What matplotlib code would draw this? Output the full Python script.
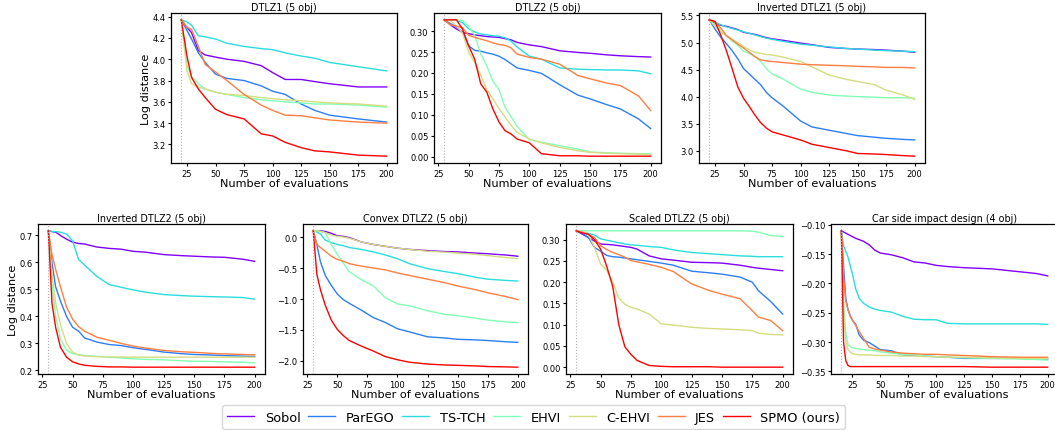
import numpy as np
import matplotlib
matplotlib.use("Agg")
import matplotlib.pyplot as plt

methods = ["Sobol", "ParEGO", "TS-TCH", "EHVI", "C-EHVI", "JES", "SPMO (ours)"]

# ---------------- DTLZ1 (5 obj) ----------------
dtlz1_x = [20, 25, 29, 35, 41, 50, 60, 75, 90, 100, 111, 125, 137, 150, 175, 200]
dtlz1 = {
    "Sobol":       [4.37, 4.30, 4.25, 4.08, 4.04, 4.02, 4.00, 3.98, 3.94, 3.875, 3.81, 3.81, 3.79, 3.77, 3.74, 3.74],
    "ParEGO":      [4.37, 4.27, 4.19, 4.06, 3.97, 3.86, 3.82, 3.80, 3.75, 3.70, 3.67, 3.58, 3.52, 3.475, 3.44, 3.41],
    "TS-TCH":      [4.37, 4.35, 4.32, 4.22, 4.21, 4.19, 4.15, 4.12, 4.10, 4.09, 4.06, 4.03, 4.01, 3.97, 3.93, 3.89],
    "EHVI":        [4.37, 3.94, 3.84, 3.77, 3.72, 3.69, 3.67, 3.64, 3.62, 3.61, 3.60, 3.59, 3.58, 3.58, 3.57, 3.55],
    "C-EHVI":      [4.37, 3.89, 3.77, 3.74, 3.72, 3.69, 3.67, 3.66, 3.64, 3.63, 3.62, 3.61, 3.60, 3.59, 3.58, 3.56],
    "JES":         [4.37, 4.30, 4.28, 4.12, 3.95, 3.88, 3.80, 3.67, 3.57, 3.52, 3.475, 3.47, 3.45, 3.43, 3.41, 3.40],
    "SPMO (ours)": [4.37, 4.03, 3.83, 3.72, 3.64, 3.53, 3.48, 3.44, 3.30, 3.28, 3.22, 3.17, 3.14, 3.13, 3.10, 3.09],
}

# ---------------- DTLZ2 (5 obj) ----------------
dtlz2_x = [30, 35, 40, 45, 50, 55, 60, 65, 70, 75, 80, 85, 90, 100, 110, 125, 140, 150, 165, 175, 190, 200]
dtlz2 = {
    "Sobol":       [.327, .315, .305, .297, .294, .291, .289, .287, .286, .285, .282, .279, .273, .267, .263, .253, .249, .247, .243, .241, .239, .238],
    "ParEGO":      [.327, .318, .310, .298, .265, .254, .252, .248, .245, .240, .232, .222, .212, .206, .199, .172, .147, .138, .123, .114, .090, .067],
    "TS-TCH":      [.327, .327, .326, .320, .306, .298, .293, .291, .289, .288, .284, .276, .262, .240, .233, .212, .209, .208, .207, .207, .205, .198],
    "EHVI":        [.327, .327, .327, .325, .312, .290, .245, .217, .180, .160, .118, .095, .072, .041, .034, .026, .018, .011, .009, .008, .007, .007],
    "C-EHVI":      [.327, .325, .312, .295, .250, .225, .195, .160, .138, .115, .095, .075, .058, .042, .033, .022, .014, .010, .008, .007, .006, .005],
    "JES":         [.327, .315, .312, .308, .290, .285, .281, .277, .272, .268, .266, .260, .245, .237, .233, .221, .194, .186, .175, .170, .145, .110],
    "SPMO (ours)": [.327, .327, .327, .305, .265, .233, .174, .154, .114, .083, .062, .054, .042, .033, .007, .002, .002, .001, .001, .001, .001, .001],
}

# ---------------- Inverted DTLZ1 (5 obj) ----------------
idtlz1_x = [20, 25, 30, 35, 40, 45, 50, 55, 60, 65, 70, 75, 85, 100, 110, 125, 140, 150, 165, 175, 190, 200]
idtlz1 = {
    "Sobol":       [5.42, 5.36, 5.32, 5.30, 5.27, 5.24, 5.19, 5.17, 5.15, 5.12, 5.09, 5.07, 5.04, 4.99, 4.96, 4.91, 4.89, 4.88, 4.87, 4.86, 4.84, 4.82],
    "ParEGO":      [5.42, 5.25, 5.10, 4.98, 4.85, 4.70, 4.52, 4.42, 4.32, 4.22, 4.08, 3.98, 3.82, 3.55, 3.44, 3.38, 3.32, 3.28, 3.25, 3.23, 3.21, 3.20],
    "TS-TCH":      [5.42, 5.38, 5.33, 5.29, 5.26, 5.23, 5.20, 5.17, 5.14, 5.11, 5.08, 5.06, 5.02, 4.97, 4.95, 4.92, 4.89, 4.88, 4.86, 4.85, 4.84, 4.83],
    "EHVI":        [5.42, 5.33, 5.22, 5.12, 5.03, 4.95, 4.84, 4.80, 4.74, 4.65, 4.52, 4.42, 4.32, 4.14, 4.08, 4.03, 4.01, 4.00, 3.99, 3.98, 3.98, 3.97],
    "C-EHVI":      [5.42, 5.30, 5.20, 5.12, 5.06, 5.00, 4.93, 4.87, 4.82, 4.80, 4.78, 4.77, 4.73, 4.65, 4.55, 4.40, 4.32, 4.28, 4.22, 4.12, 4.03, 3.95],
    "JES":         [5.42, 5.38, 5.27, 5.13, 5.05, 4.97, 4.90, 4.82, 4.74, 4.68, 4.66, 4.65, 4.63, 4.60, 4.59, 4.58, 4.57, 4.56, 4.55, 4.54, 4.54, 4.53],
    "SPMO (ours)": [5.42, 5.39, 5.14, 4.85, 4.52, 4.18, 3.97, 3.82, 3.66, 3.52, 3.42, 3.35, 3.29, 3.20, 3.12, 3.06, 3.00, 2.95, 2.94, 2.93, 2.91, 2.90],
}

# ---------------- Inverted DTLZ2 (5 obj) ----------------
idtlz2_x = [30, 33, 36, 40, 45, 50, 55, 60, 70, 80, 90, 100, 110, 125, 140, 150, 165, 175, 190, 200]
idtlz2 = {
    "Sobol":       [.717, .714, .712, .700, .686, .675, .670, .668, .657, .652, .649, .641, .638, .629, .625, .623, .620, .619, .612, .604],
    "ParEGO":      [.717, .600, .510, .457, .400, .360, .345, .320, .305, .296, .292, .284, .278, .268, .262, .259, .257, .255, .253, .252],
    "TS-TCH":      [.717, .715, .714, .712, .705, .680, .610, .590, .548, .518, .508, .498, .490, .481, .477, .475, .473, .472, .470, .464],
    "EHVI":        [.717, .520, .400, .315, .275, .262, .258, .255, .252, .249, .246, .243, .241, .239, .236, .234, .233, .232, .230, .228],
    "C-EHVI":      [.717, .560, .450, .370, .300, .268, .257, .253, .251, .250, .250, .249, .249, .249, .249, .249, .249, .249, .249, .249],
    "JES":         [.717, .630, .575, .510, .435, .390, .362, .345, .323, .312, .300, .290, .283, .274, .269, .267, .263, .261, .259, .258],
    "SPMO (ours)": [.717, .450, .360, .286, .249, .232, .224, .219, .215, .213, .213, .212, .212, .212, .212, .212, .212, .212, .212, .212],
}

# ---------------- Convex DTLZ2 (5 obj) ----------------
cdtlz2_x = [30, 33, 36, 40, 45, 50, 55, 60, 70, 80, 90, 100, 110, 125, 140, 150, 165, 175, 190, 200]
cdtlz2 = {
    "Sobol":       [.10, .10, .10, .09, .06, .02, .01, -.01, -.08, -.12, -.15, -.18, -.20, -.22, -.235, -.24, -.26, -.27, -.29, -.31],
    "ParEGO":      [.10, -.12, -.40, -.62, -.78, -.92, -1.01, -1.07, -1.18, -1.30, -1.38, -1.48, -1.53, -1.61, -1.63, -1.65, -1.66, -1.67, -1.69, -1.70],
    "TS-TCH":      [.10, .08, .05, -.05, -.09, -.12, -.14, -.17, -.20, -.24, -.29, -.35, -.43, -.51, -.56, -.59, -.65, -.68, -.70, -.71],
    "EHVI":        [.10, .10, .09, .07, -.12, -.28, -.42, -.56, -.69, -.79, -.98, -1.08, -1.11, -1.19, -1.25, -1.27, -1.31, -1.34, -1.37, -1.38],
    "C-EHVI":      [.10, .10, .09, .07, .03, .01, .00, -.02, -.08, -.12, -.15, -.18, -.20, -.23, -.245, -.26, -.28, -.30, -.33, -.35],
    "JES":         [.10, -.12, -.17, -.23, -.31, -.36, -.39, -.43, -.47, -.50, -.53, -.58, -.62, -.68, -.74, -.79, -.85, -.90, -.96, -1.01],
    "SPMO (ours)": [.10, -.60, -.85, -1.10, -1.34, -1.49, -1.59, -1.67, -1.76, -1.84, -1.93, -1.98, -2.02, -2.05, -2.065, -2.07, -2.08, -2.09, -2.095, -2.10],
}

# ---------------- Scaled DTLZ2 (5 obj) ----------------
sdtlz2_x = [30, 35, 40, 45, 50, 55, 60, 65, 70, 75, 80, 90, 100, 110, 125, 140, 150, 165, 175, 180, 190, 200]
sdtlz2 = {
    "Sobol":       [.321, .313, .305, .297, .290, .289, .288, .286, .284, .282, .278, .262, .255, .252, .247, .246, .245, .240, .235, .233, .230, .227],
    "ParEGO":      [.321, .315, .305, .282, .273, .263, .260, .259, .257, .255, .253, .249, .245, .240, .226, .222, .219, .212, .200, .180, .155, .125],
    "TS-TCH":      [.321, .318, .315, .311, .302, .299, .296, .293, .290, .288, .287, .284, .282, .276, .270, .267, .265, .262, .261, .260, .260, .260],
    "EHVI":        [.321, .321, .321, .321, .321, .321, .321, .321, .321, .321, .321, .321, .321, .321, .321, .321, .321, .321, .320, .318, .310, .308],
    "C-EHVI":      [.321, .320, .312, .282, .243, .228, .200, .163, .148, .141, .137, .125, .102, .099, .094, .091, .090, .088, .086, .080, .077, .076],
    "JES":         [.321, .317, .312, .305, .286, .277, .270, .265, .259, .251, .248, .242, .235, .225, .196, .180, .172, .161, .133, .118, .110, .086],
    "SPMO (ours)": [.321, .316, .313, .300, .278, .238, .190, .100, .048, .030, .016, .004, .002, .001, .001, .001, .000, .000, .000, .000, .000, .000],
}

# ---------------- Car side impact design (4 obj) ----------------
car_x = [15, 17, 19, 21, 23, 25, 28, 31, 35, 40, 45, 50, 60, 70, 80, 90, 100, 110, 125, 150, 175, 190, 200]
car = {
    "Sobol":       [-.110, -.112, -.114, -.116, -.118, -.120, -.123, -.125, -.128, -.134, -.143, -.148, -.151, -.156, -.163, -.165, -.169, -.171, -.173, -.175, -.180, -.183, -.187],
    "ParEGO":      [-.110, -.170, -.225, -.245, -.255, -.263, -.270, -.288, -.297, -.301, -.307, -.313, -.315, -.322, -.323, -.324, -.325, -.326, -.328, -.328, -.328, -.329, -.329],
    "TS-TCH":      [-.110, -.135, -.145, -.155, -.170, -.184, -.210, -.225, -.234, -.240, -.244, -.246, -.249, -.256, -.261, -.262, -.262, -.268, -.269, -.269, -.269, -.269, -.270],
    "EHVI":        [-.110, -.230, -.285, -.305, -.308, -.310, -.311, -.312, -.313, -.314, -.315, -.317, -.319, -.321, -.322, -.324, -.325, -.326, -.327, -.328, -.329, -.330, -.331],
    "C-EHVI":      [-.110, -.250, -.300, -.313, -.317, -.320, -.321, -.322, -.322, -.322, -.323, -.323, -.323, -.324, -.324, -.325, -.325, -.326, -.326, -.327, -.328, -.328, -.328],
    "JES":         [-.110, -.190, -.230, -.245, -.256, -.263, -.272, -.282, -.294, -.309, -.312, -.314, -.317, -.319, -.320, -.321, -.321, -.322, -.323, -.325, -.326, -.326, -.326],
    "SPMO (ours)": [-.110, -.300, -.332, -.340, -.342, -.342, -.342, -.342, -.342, -.342, -.342, -.342, -.342, -.342, -.342, -.342, -.342, -.342, -.342, -.343, -.343, -.343, -.343],
}

panels = [
    ("DTLZ1 (5 obj)", dtlz1_x, dtlz1, True),
    ("DTLZ2 (5 obj)", dtlz2_x, dtlz2, False),
    ("Inverted DTLZ1 (5 obj)", idtlz1_x, idtlz1, False),
    ("Inverted DTLZ2 (5 obj)", idtlz2_x, idtlz2, True),
    ("Convex DTLZ2 (5 obj)", cdtlz2_x, cdtlz2, False),
    ("Scaled DTLZ2 (5 obj)", sdtlz2_x, sdtlz2, False),
    ("Car side impact design (4 obj)", car_x, car, False),
]

W, H = 1055, 431
fig = plt.figure(figsize=(W / 100, H / 100), dpi=100)

# axes rectangles in pixels: left, top, right, bottom
rects = [
    (171, 14, 397, 164), (434, 14, 661, 164), (699, 14, 925, 164),
    (38, 225, 265, 375), (303, 225, 528, 375), (566, 225, 793, 375), (831, 225, 1058, 375),
]

colors = plt.cm.rainbow(np.linspace(0, 1, len(methods)))

handles = []
for i, ((title, xs, data, ylab), (l, t, r, b)) in enumerate(zip(panels, rects)):
    ax = fig.add_axes([l / W, 1 - b / H, (r - l) / W, (b - t) / H])
    for m, c in zip(methods, colors):
        ln, = ax.plot(xs, data[m], color=c, lw=1.0, label=m)
        if i == 0:
            handles.append(ln)
    ax.axvline(xs[0], color="#b0b0b0", lw=0.8, ls=":")
    ax.set_title(title, fontsize=6.9, pad=2)
    ax.set_xlabel("Number of evaluations", fontsize=8.1, labelpad=0.5)
    if ylab:
        ax.set_ylabel("Log distance", fontsize=8.1, labelpad=1)
    ax.set_xticks([25, 50, 75, 100, 125, 150, 175, 200])
    ax.tick_params(labelsize=6.0, length=2.5, pad=1.5)
    for s in ax.spines.values():
        s.set_linewidth(0.9)

fig.legend(handles, methods, loc="upper center", bbox_to_anchor=(0.506, 0.057),
           ncol=7, fontsize=9.3, handlelength=2.1, columnspacing=0.6,
           handletextpad=0.8, frameon=True, borderaxespad=0.0)

fig.savefig("out.png", dpi=100)
